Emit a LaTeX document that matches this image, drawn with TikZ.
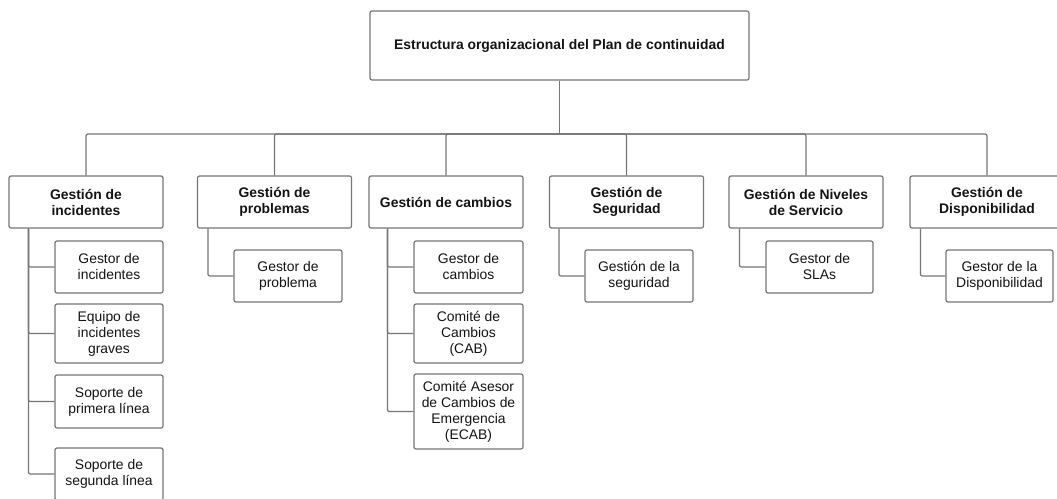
\documentclass[tikz,border=0pt]{standalone}
\usepackage{fontspec}
\setmainfont{Liberation Sans}
\definecolor{linegray}{RGB}{118,118,118}
\definecolor{txt}{RGB}{20,20,20}
\tikzset{
  box/.style={draw=linegray, line width=1.2pt, rounded corners=2pt, fill=white, align=center, inner sep=0pt, text=txt, font=\fontsize{13.9}{16}\selectfont},
  headbox/.style={box, font=\fontsize{13.9}{16}\selectfont\bfseries, minimum width=154pt, minimum height=52pt},
  kidbox/.style={box, minimum width=108pt},
  conn/.style={draw=linegray, line width=1.2pt, rounded corners=2pt}
}
\begin{document}
\begin{tikzpicture}[x=1pt,y=-1pt]
\clip (0,0) rectangle (1057,498);
\fill[white] (0,0) rectangle (1057,498);
% top
\node[box, font=\fontsize{13.9}{16}\selectfont\bfseries, minimum width=379pt, minimum height=69pt] (top) at (559.5,45.5) {Estructura organizacional del Plan de continuidad};
\coordinate (bus) at (559.5,134);
% level 1
\node[headbox] (b1) at (86,202) {Gestión de\\incidentes};
\node[headbox] (b2) at (274.5,202) {Gestión de\\problemas};
\node[headbox] (b3) at (446,202) {Gestión de cambios};
\node[headbox] (b4) at (626.5,202) {Gestión de\\Seguridad};
\node[headbox] (b5) at (806,202) {Gestión de Niveles\\de Servicio};
\node[headbox] (b6) at (987,202) {Gestión de\\Disponibilidad};
% children of b1
\node[kidbox, minimum height=52pt] (k11) at (109,267) {Gestor de\\incidentes};
\node[kidbox, minimum height=59pt] (k12) at (109,333.5) {Equipo de\\incidentes\\graves};
\node[kidbox, minimum height=53pt] (k13) at (109,401.5) {Soporte de\\primera línea};
\node[kidbox, minimum height=52pt] (k14) at (109,474) {Soporte de\\segunda línea};
% child of b2
\node[kidbox, minimum height=52pt] (k21) at (288,276) {Gestor de\\problema};
% children of b3
\node[kidbox, minimum width=109pt, minimum height=52pt] (k31) at (468.5,267) {Gestor de\\cambios};
\node[kidbox, minimum width=109pt, minimum height=59pt] (k32) at (468.5,333.5) {Comité de\\Cambios\\(CAB)};
\node[kidbox, minimum width=109pt, minimum height=75pt] (k33) at (468.5,411.5) {Comité Asesor\\de Cambios de\\Emergencia\\(ECAB)};
% child of b4
\node[kidbox, minimum height=52pt] (k41) at (639,276) {Gestión de la\\seguridad};
% child of b5
\node[kidbox, minimum width=107pt, minimum height=52pt] (k51) at (819.5,267) {Gestor de\\SLAs};
% child of b6
\node[kidbox, minimum width=107pt, minimum height=52pt] (k61) at (999.5,276) {Gestor de la\\Disponibilidad};
% connectors top
\draw[conn] (top.south) -- (bus);
\foreach \b in {b1,b2,b3,b4,b5,b6} \draw[conn] (bus) -| (\b.north);
% children connectors
\foreach \k in {k11,k12,k13,k14} \draw[conn] ([xshift=20pt]b1.south west) |- (\k.west);
\draw[conn] ([xshift=11pt]b2.south west) |- (k21.west);
\foreach \k in {k31,k32,k33} \draw[conn] ([xshift=19pt]b3.south west) |- (\k.west);
\draw[conn] ([xshift=10pt]b4.south west) |- (k41.west);
\draw[conn] ([xshift=11pt]b5.south west) |- (k51.west);
\draw[conn] ([xshift=11pt]b6.south west) |- (k61.west);
\end{tikzpicture}
\end{document}
